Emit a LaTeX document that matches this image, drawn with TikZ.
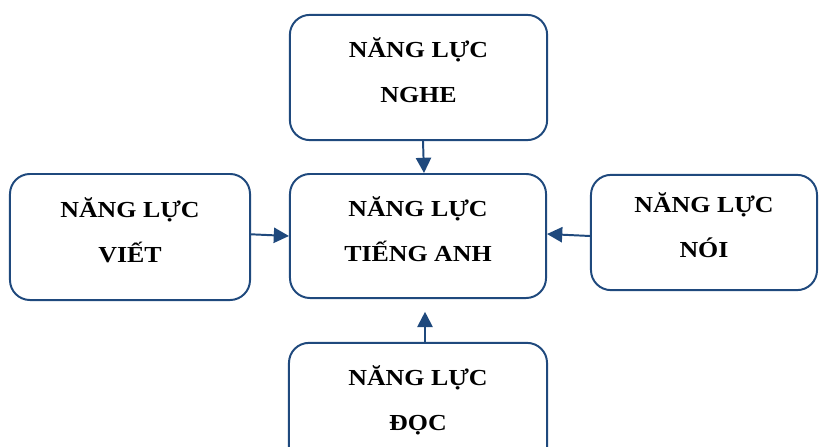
\documentclass[tikz,border=0pt]{standalone}
\usepackage{fontspec}
\setmainfont{Liberation Serif}[FakeStretch=1.13]
\usetikzlibrary{arrows.meta,calc}
\definecolor{skillblue}{RGB}{31,73,125}
\tikzset{
skill/.style = {draw=skillblue, line width=1.4pt, rounded corners=0.5cm,
                fill=white, align=center, inner sep=0pt,
                font=\fontsize{16.3}{32}\selectfont\bfseries,
                text depth=0.35cm},
link/.style = {draw=skillblue, line width=1.4pt,
               -{Triangle[length=0.38cm, width=0.38cm]}}
}

\begin{document}
\begin{tikzpicture}[x=0.025cm, y=-0.025cm]
	\useasboundingbox (0,0) rectangle (819,446);

	% Centre
	\node[skill, minimum width=6.4cm, minimum height=3.1cm] (anh) at (418,236) {NĂNG LỰC\\TIẾNG ANH};

	% Four skills
	\node[skill, minimum width=6.43cm, minimum height=3.13cm] (nghe) at (418.5,77.5) {NĂNG LỰC\\NGHE};
	\node[skill, minimum width=6.0cm, minimum height=3.15cm] (viet) at (130,237) {NĂNG LỰC\\VIẾT};
	\node[skill, minimum width=5.65cm, minimum height=2.88cm] (noi) at (704,232.5) {NĂNG LỰC\\NÓI};
	\node[skill, minimum width=6.45cm, minimum height=3.13cm] (doc) at (418,405.5) {NĂNG LỰC\\ĐỌC};

	% Arrows
	\draw[link] ($(nghe.south)+(4.5,0)$) -- ($(anh.north)+(6,0)$);
	\draw[link] ($(viet.east)+(0,-2.7)$) -- (anh.west);
	\draw[link] ($(noi.west)+(0,3.5)$) -- ($(anh.east)+(0,-2)$);
	\draw[link, shorten >=0.32cm] ($(doc.north)+(7,0)$) -- ($(anh.south)+(7,0)$);
\end{tikzpicture}
\end{document}
